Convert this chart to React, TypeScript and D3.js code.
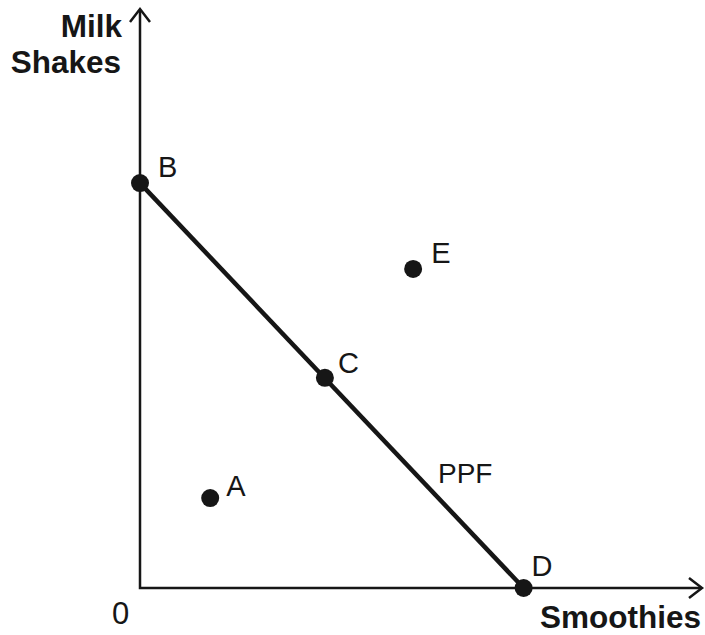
import React from "react";
import * as d3 from "d3";

const pointNames = ["A", "B", "C", "D", "E"];
const pointX = [1.83, 0, 4.82, 10, 7.12];
const pointY = [2.22, 10, 5.19, 0, 7.88];
const labelDx = [16, 18, 13, 8, 18];
const labelDy = [-2, -6, -5, -12, -6];
const ppfX = [0, 10];
const ppfY = [10, 0];

const W = 705;
const H = 635;
const ink = "#161616";
const font = "'Liberation Sans', Arial, Helvetica, sans-serif";

export default function App() {
  const x = d3.scaleLinear().domain([0, 14.65]).range([140, 702]);
  const y = d3.scaleLinear().domain([0, 14.3]).range([588, 9]);
  const line = d3
    .line<number>()
    .x((d, i) => x(ppfX[i]))
    .y((d, i) => y(ppfY[i]));
  const x0 = x(0);
  const y0 = y(0);
  const xEnd = x(14.65);
  const yEnd = y(14.3);
  return (
    <svg
      width={W}
      height={H}
      style={{ position: "absolute", left: 0, top: 0, background: "#fff" }}
    >
      <rect width={W} height={H} fill="#fff" />
      <path
        d={`M${x0},${yEnd + 1} L${x0},${y0} L${xEnd - 1},${y0}`}
        fill="none"
        stroke={ink}
        strokeWidth={2.5}
      />
      <path
        d={`M${x0 - 10},${yEnd + 13} L${x0},${yEnd} L${x0 + 10},${yEnd + 13}`}
        fill="none"
        stroke={ink}
        strokeWidth={2.5}
      />
      <path
        d={`M${xEnd - 13},${y0 - 10} L${xEnd},${y0} L${xEnd - 13},${y0 + 10}`}
        fill="none"
        stroke={ink}
        strokeWidth={2.5}
      />
      <path d={line(ppfX) || ""} fill="none" stroke={ink} strokeWidth={4.5} />
      {pointNames.map((n, i) => (
        <g key={n}>
          <circle cx={x(pointX[i])} cy={y(pointY[i])} r={9} fill={ink} />
          <text
            x={x(pointX[i]) + labelDx[i]}
            y={y(pointY[i]) + labelDy[i]}
            fontFamily={font}
            fontSize={29}
            fill={ink}
          >
            {n}
          </text>
        </g>
      ))}
      <text x={438} y={483} fontFamily={font} fontSize={28} fill={ink}>
        PPF
      </text>
      <text x={112} y={624} fontFamily={font} fontSize={31} fill={ink}>
        0
      </text>
      <text
        x={122}
        y={37}
        textAnchor="end"
        fontFamily={font}
        fontWeight="bold"
        fontSize={31.5}
        fill={ink}
      >
        Milk
      </text>
      <text
        x={121}
        y={73}
        textAnchor="end"
        fontFamily={font}
        fontWeight="bold"
        fontSize={31.5}
        fill={ink}
      >
        Shakes
      </text>
      <text
        x={701}
        y={628}
        textAnchor="end"
        fontFamily={font}
        fontWeight="bold"
        fontSize={31.5}
        fill={ink}
      >
        Smoothies
      </text>
    </svg>
  );
}
